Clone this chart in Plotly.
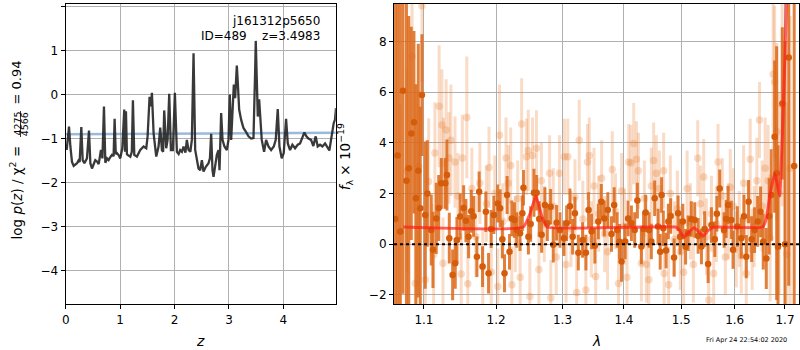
import plotly.graph_objects as go

# ---------------- data: left panel (redshift PDF) ----------------
z_grid = [0.018, 0.037, 0.061, 0.086, 0.116, 0.147, 0.178, 0.208, 0.235, 0.257, 0.287, 0.312, 0.343, 0.370,
          0.391, 0.428, 0.453, 0.483, 0.515, 0.544, 0.575, 0.606, 0.648, 0.675, 0.703, 0.728, 0.760, 0.789,
          0.820, 0.850, 0.880, 0.899, 0.920, 0.942, 0.975, 1.003, 1.040, 1.076, 1.090, 1.107, 1.125, 1.138,
          1.187, 1.215, 1.235, 1.260, 1.309, 1.340, 1.370, 1.431, 1.480, 1.505, 1.541, 1.566, 1.584, 1.615,
          1.664, 1.706, 1.737, 1.768, 1.790, 1.810, 1.847, 1.872, 1.902, 1.933, 1.969, 2.006, 2.043, 2.075,
          2.104, 2.135, 2.165, 2.200, 2.226, 2.257, 2.290, 2.318, 2.349, 2.379, 2.410, 2.440, 2.471, 2.502,
          2.532, 2.575, 2.624, 2.650, 2.673, 2.697, 2.716, 2.746, 2.777, 2.807, 2.826, 2.856, 2.881, 2.917,
          2.960, 2.991, 3.015, 3.040, 3.064, 3.089, 3.113, 3.144, 3.162, 3.187, 3.223, 3.266, 3.309, 3.358,
          3.407, 3.450, 3.480, 3.492, 3.511, 3.529, 3.554, 3.578, 3.602, 3.645, 3.682, 3.725, 3.774, 3.823,
          3.859, 3.896, 3.927, 3.969, 4.006, 4.049, 4.080, 4.122, 4.165, 4.214, 4.263, 4.306, 4.349, 4.385,
          4.422, 4.459, 4.508, 4.550, 4.593, 4.630, 4.673, 4.716, 4.765, 4.813, 4.844, 4.875, 4.899, 4.924,
          4.948, 4.966]
log_pz = [-1.26, -1.03, -0.73, -1.18, -1.53, -1.62, -1.58, -1.56, -1.50, -1.53, -0.74, -1.49, -1.56, -1.50,
          -1.45, -0.82, -1.56, -1.68, -1.55, -1.49, -1.52, -1.58, -1.26, -1.45, -0.27, -1.55, -1.45, -1.49,
          -1.42, -1.37, -1.40, -0.55, -1.35, -1.33, -1.38, -1.45, -1.22, -0.34, -1.30, -0.38, -1.35, -1.37,
          -1.41, -1.30, -0.13, -1.37, -1.41, -1.32, -1.26, -1.18, -1.22, -0.95, -0.05, -0.27, 0.04, -0.88,
          -1.41, -1.18, -0.75, -1.26, -1.30, -0.36, -1.22, -1.03, 0.02, -1.26, -1.26, 0.04, -1.30, -1.35,
          -1.26, -1.30, -1.18, -1.32, -1.03, -1.26, -1.30, -1.03, 0.94, -1.26, -1.49, -1.68, -1.72, -1.49,
          -1.75, -1.64, -1.56, -1.45, -0.89, -1.72, -1.87, -1.56, -1.37, -1.26, -1.72, -0.42, -1.03, -1.18,
          -1.26, -1.03, 0.00, -1.03, -0.27, 0.23, -0.08, 0.66, 0.27, -0.34, -0.57, -0.76, -0.84, -0.95,
          -1.00, -0.99, 0.50, 1.22, 0.34, -0.50, -0.11, -0.50, -1.03, -1.30, -1.03, -1.18, -1.26, -1.18,
          -1.03, -0.33, -1.18, -1.45, -1.33, -0.55, -1.11, -1.26, -1.14, -1.22, -1.14, -1.11, -0.95, -0.86,
          -0.95, -1.00, -1.03, -1.17, -0.95, -1.18, -1.14, -1.18, -1.11, -1.22, -1.27, -1.03, -0.79, -0.65,
          -0.57, -0.31]
prior_z = [0.0, 4.963]
prior_logp = [-0.90, -0.87]

# ---------------- data: right panel (spectrum) ----------------
dark_wave = [1.0625, 1.0655, 1.0690, 1.0725, 1.0770, 1.0800, 1.0833, 1.0868, 1.0894, 1.0925, 1.0951, 1.0973,
             1.1017, 1.1045, 1.1097, 1.1120, 1.1164, 1.1197, 1.1232, 1.1286, 1.1309, 1.1341, 1.1387, 1.1423,
             1.1446, 1.1491, 1.1539, 1.1571, 1.1608, 1.1645, 1.1678, 1.1725, 1.1757, 1.1805, 1.1852, 1.1891,
             1.1928, 1.1967, 1.2024, 1.2058, 1.2090, 1.2122, 1.2160, 1.2195, 1.2229, 1.2268, 1.2302, 1.2351,
             1.2385, 1.2402, 1.2476, 1.2510, 1.2560, 1.2601, 1.2640, 1.2677, 1.2727, 1.2764, 1.2815, 1.2856,
             1.2908, 1.2960, 1.3022, 1.3065, 1.3117, 1.3160, 1.3196, 1.3250, 1.3319, 1.3372, 1.3415, 1.3464,
             1.3517, 1.3573, 1.3622, 1.3671, 1.3730, 1.3791, 1.3836, 1.3886, 1.3925, 1.3958, 1.4020, 1.4070,
             1.4126, 1.4182, 1.4228, 1.4297, 1.4335, 1.4371, 1.4430, 1.4470, 1.4528, 1.4587, 1.4625, 1.4650,
             1.4680, 1.4729, 1.4770, 1.4811, 1.4872, 1.4944, 1.4980, 1.5030, 1.5080, 1.5126, 1.5185, 1.5247,
             1.5310, 1.5371, 1.5430, 1.5495, 1.5557, 1.5620, 1.5660, 1.5713, 1.5796, 1.5835, 1.5872, 1.5935,
             1.5968, 1.6050, 1.6127, 1.6180, 1.6225, 1.6270, 1.6330, 1.6388, 1.6450, 1.6507, 1.6560, 1.6621,
             1.6680, 1.6721, 1.6789, 1.6830, 1.6858, 1.6946, 1.7000, 1.7077, 1.7190]
dark_flux = [1.00, 3.50, 0.50, 6.05, 2.50, 3.00, 4.37, 4.81, 1.81, 2.90, 1.42, 5.88,
             1.15, 2.00, 0.56, -0.22, 1.02, 1.43, 2.40, 2.40, 2.73, 0.24, -1.21, -0.75,
             0.17, 1.09, 1.43, 0.93, 0.30, 1.30, 1.10, -0.49, 2.07, -0.88, 1.28, -1.14,
             0.60, 1.15, 1.61, 1.42, 0.20, -1.14, 1.94, -0.30, 1.02, 0.96, 0.56, 0.43,
             1.22, 2.23, 0.30, 0.80, 2.03, 2.03, 1.00, 0.37, 1.55, 0.83, 1.48, -0.02,
             0.85, 0.56, 0.24, 0.83, 1.50, 0.30, 1.22, -0.33, 0.17, -0.33, 1.35, 0.50,
             -0.06, 0.90, 1.68, 1.02, 1.35, 0.40, 1.55, 0.56, 0.10, -0.68, 0.11, 1.02,
             0.83, 0.56, 1.72, -0.09, 0.60, 1.25, 0.56, 0.11, 1.81, 0.70, -0.30, 1.94,
             0.63, -0.25, 0.90, 1.11, -0.52, 1.22, 0.30, 0.90, -0.10, 0.43, 1.00, 0.96,
             0.33, -0.09, 0.60, -0.78, 0.76, 0.20, 1.20, 2.20, 0.56, 1.00, 1.55, 0.96,
             -0.22, 0.70, 0.24, 1.10, -0.49, 1.68, 0.20, 0.56, 0.90, 1.28, 0.10, -0.56,
             1.10, 1.94, 4.24, 2.80, -0.10, 5.55, 0.00, 7.36, 3.08]
dark_err = [12.0, 10.0, 11.0, 8.0, 9.0, 6.0, 4.2, 3.6, 4.5, 5.0, 4.0, 2.4,
            2.9, 2.1, 1.4, 1.5, 1.4, 1.3, 1.0, 1.0, 1.4, 1.0, 1.0, 1.0,
            0.9, 0.9, 0.9, 0.85, 0.85, 0.85, 0.8, 0.8, 0.8, 0.8, 0.8, 0.8,
            0.75, 0.75, 0.75, 0.75, 0.75, 0.75, 0.75, 0.7, 0.7, 0.7, 0.7, 0.7,
            0.7, 0.7, 0.7, 0.7, 0.95, 0.7, 0.7, 0.7, 0.7, 0.7, 0.7, 0.7,
            0.7, 0.7, 0.7, 0.7, 0.7, 0.7, 0.65, 0.7, 0.7, 0.7, 0.7, 0.7,
            0.7, 0.7, 0.7, 0.7, 0.7, 0.7, 0.7, 0.7, 0.7, 0.8, 0.7, 0.7,
            0.7, 0.7, 0.7, 0.7, 0.7, 0.7, 0.7, 0.7, 0.7, 0.7, 0.7, 0.7,
            0.7, 0.7, 0.7, 0.7, 0.75, 0.7, 0.7, 0.7, 0.7, 0.7, 0.7, 0.7,
            0.7, 0.7, 0.7, 0.75, 0.7, 0.7, 0.7, 0.75, 0.7, 0.75, 0.75, 0.75,
            0.75, 0.8, 0.8, 0.85, 0.85, 0.85, 0.9, 0.9, 1.0, 1.0, 1.1, 1.2,
            1.5, 1.8, 3.0, 5.0, 4.0, 3.0, 8.0, 9.0, 7.0]

light_wave = [1.0688, 1.0778, 1.0843, 1.0886, 1.0930, 1.0973, 1.1017, 1.1062, 1.1129, 1.1146, 1.1203, 1.1240,
              1.1255, 1.1263, 1.1298, 1.1337, 1.1363, 1.1419, 1.1460, 1.1505, 1.1521, 1.1583, 1.1597, 1.1654,
              1.1710, 1.1767, 1.1809, 1.1859, 1.1898, 1.1930, 1.1981, 1.2024, 1.2049, 1.2097, 1.2144, 1.2179,
              1.2213, 1.2229, 1.2280, 1.2316, 1.2353, 1.2375, 1.2449, 1.2474, 1.2498, 1.2538, 1.2598, 1.2635,
              1.2673, 1.2718, 1.2799, 1.2818, 1.2856, 1.2902, 1.2952, 1.3030, 1.3056, 1.3083, 1.3134, 1.3197,
              1.3224, 1.3265, 1.3323, 1.3371, 1.3398, 1.3427, 1.3459, 1.3504, 1.3531, 1.3580, 1.3628, 1.3677,
              1.3726, 1.3804, 1.3858, 1.3908, 1.3959, 1.4009, 1.4051, 1.4081, 1.4118, 1.4166, 1.4212, 1.4246,
              1.4297, 1.4349, 1.4383, 1.4426, 1.4470, 1.4510, 1.4557, 1.4610, 1.4686, 1.4695, 1.4775, 1.4805,
              1.4877, 1.4931, 1.4985, 1.5045, 1.5107, 1.5167, 1.5222, 1.5302, 1.5352, 1.5413, 1.5463, 1.5506,
              1.5557, 1.5600, 1.5650, 1.5682, 1.5763, 1.5820, 1.5877, 1.5915, 1.5973, 1.6030, 1.6088, 1.6127,
              1.6172, 1.6224, 1.6263, 1.6302, 1.6341, 1.6380, 1.6433, 1.6485, 1.6538, 1.6598, 1.6658, 1.6698,
              1.6759, 1.6789, 1.6834, 1.6880, 1.6941, 1.7038, 1.7106]
light_flux = [0.50, 2.90, 7.41, -1.54, 3.06, 9.40, -1.40, 2.47, -0.41, 3.60, 5.44, 4.70,
              -0.75, 3.19, 4.50, 3.40, 4.10, 3.24, 1.90, -1.17, 3.40, 5.00, -1.56, 2.20,
              0.30, 2.40, -0.90, 1.60, 3.03, -1.10, 2.00, -1.67, 4.30, 0.90, 3.40, 2.40,
              3.10, -1.60, 0.40, 1.80, -1.30, 4.74, 3.45, 3.70, -2.06, 3.50, 3.78, -1.00,
              2.50, 0.80, 2.80, -2.12, 1.50, -0.50, 2.80, 3.45, -0.80, 3.45, 0.60, 1.85,
              -1.90, 4.10, 1.00, -1.80, 3.24, 3.50, 0.20, 2.30, -1.27, 1.20, 2.60, 0.40,
              -0.30, 2.95, 1.30, -1.55, 2.10, 0.70, -1.30, 3.24, 3.20, 3.97, 3.35, 2.90,
              -0.75, 1.80, -0.80, -1.40, 2.30, 3.30, 2.80, 2.20, 2.90, -1.15, -1.60, 2.00,
              0.20, 1.40, -0.30, -1.10, 2.20, 0.90, -0.80, 3.39, 1.60, 2.65, 0.30, -2.20,
              1.20, -1.15, 0.80, 3.24, 1.90, -0.50, 0.90, 2.25, 1.50, -0.20, 0.60, -0.45,
              2.40, -1.15, 1.00, 3.35, -0.20, 0.70, 2.50, 4.90, 1.50, 3.00, 2.50, 0.24,
              6.70, 6.40, 4.43, 2.00, 5.50, -0.40, 3.00]
light_err = [5.0, 4.0, 2.5, 3.0, 3.0, 3.0, 2.5, 2.5, 2.0, 2.0, 2.4, 2.2,
             1.8, 1.8, 2.0, 1.8, 2.2, 1.8, 1.7, 1.6, 1.7, 2.4, 1.6, 1.6,
             1.6, 1.6, 1.5, 1.5, 1.6, 1.5, 1.5, 1.5, 2.0, 1.5, 1.6, 1.5,
             1.5, 1.5, 1.5, 1.5, 1.5, 1.8, 1.5, 1.6, 1.5, 1.5, 1.5, 1.5,
             1.5, 1.5, 1.5, 1.5, 1.5, 1.5, 1.5, 1.5, 1.5, 1.5, 1.5, 1.5,
             1.5, 1.6, 1.5, 1.5, 1.5, 1.5, 1.5, 1.5, 1.5, 1.5, 1.5, 1.5,
             1.5, 1.5, 1.5, 1.5, 1.5, 1.5, 1.5, 1.5, 1.5, 1.6, 1.5, 1.5,
             1.5, 1.5, 1.5, 1.5, 1.5, 1.5, 1.5, 1.5, 1.5, 1.5, 1.5, 1.5,
             1.5, 1.5, 1.5, 1.5, 1.5, 1.5, 1.5, 1.5, 1.5, 1.5, 1.5, 1.5,
             1.5, 1.5, 1.5, 1.5, 1.5, 1.5, 1.5, 1.5, 1.5, 1.5, 1.5, 1.5,
             1.5, 1.5, 1.5, 1.6, 1.6, 1.6, 1.7, 1.5, 1.8, 2.0, 2.2, 2.5,
             3.0, 3.0, 3.5, 4.0, 4.0, 6.0, 6.0]

model_wave = [1.073, 1.240, 1.250, 1.259, 1.268, 1.276, 1.490, 1.497, 1.505, 1.515, 1.523, 1.532, 1.540,
              1.550, 1.560, 1.655, 1.662, 1.670, 1.679, 1.684, 1.689, 1.694, 1.700, 1.705]
model_flux = [0.68, 0.68, 1.20, 1.90, 1.10, 0.68, 0.68, 0.55, 0.28, 0.50, 0.65, 0.50, 0.32,
              0.55, 0.67, 0.68, 1.00, 2.00, 2.80, 2.40, 1.90, 4.00, 7.50, 11.0]

z_ticks = [0, 1, 2, 3, 4]
lp_ticks = [-4, -3, -2, -1, 0, 1, 2]
wave_ticks = [1.1, 1.2, 1.3, 1.4, 1.5, 1.6, 1.7]
flux_ticks = [-2, 0, 2, 4, 6, 8]

W, H = 800, 350
def px(x):
    return x / W
def py(y):
    return 1 - y / H

FONT = "DejaVu Sans"
GRID = "#b0b0b0"
DARK_BAR = "rgba(220,105,25,0.85)"
DARK_PT = "rgba(212,92,10,1)"
LIGHT = "rgba(232,125,50,0.28)"

def lbl(v):
    s = ("%g" % v)
    return s.replace("-", "\u2212")

fig = go.Figure()
fig.add_trace(go.Scatter(x=prior_z, y=prior_logp, mode="lines",
                         line=dict(color="rgba(70,130,190,0.55)", width=2.5), xaxis="x", yaxis="y"))
fig.add_trace(go.Scatter(x=z_grid, y=log_pz, mode="lines",
                         line=dict(color="rgba(35,35,35,0.9)", width=2.3), xaxis="x", yaxis="y"))
fig.add_trace(go.Scatter(x=light_wave, y=light_flux, mode="markers",
                         marker=dict(size=7.5, color=LIGHT, line=dict(width=0)),
                         error_y=dict(type="data", array=light_err, color=LIGHT, thickness=3, width=0),
                         xaxis="x2", yaxis="y2"))
fig.add_trace(go.Scatter(x=dark_wave, y=dark_flux, mode="markers",
                         marker=dict(size=6.5, color=DARK_PT, line=dict(width=0)),
                         error_y=dict(type="data", array=dark_err, color=DARK_BAR, thickness=3, width=0),
                         xaxis="x2", yaxis="y2"))
fig.add_trace(go.Scatter(x=model_wave, y=model_flux, mode="lines",
                         line=dict(color="rgba(255,30,25,0.7)", width=3, shape="spline", smoothing=0.4),
                         xaxis="x2", yaxis="y2"))

axis_common = dict(showgrid=True, gridcolor=GRID, gridwidth=1, showline=True, linecolor="black",
                   linewidth=1.2, mirror=True, ticks="outside", ticklen=4, tickcolor="black",
                   zeroline=False, tickfont=dict(family=FONT, size=12, color="black"))
dom_y = [py(304), py(3.5)]
fig.update_layout(
    width=W, height=H, margin=dict(l=0, r=0, t=0, b=0), showlegend=False,
    paper_bgcolor="white", plot_bgcolor="white",
    xaxis=dict(domain=[px(62), px(333.5)], range=[0, 4.963], tickvals=z_ticks,
               ticktext=[lbl(v) for v in z_ticks], anchor="y", **axis_common),
    yaxis=dict(domain=dom_y, range=[-4.76, 2.07], tickvals=lp_ticks,
               ticktext=[lbl(v) for v in lp_ticks], anchor="x", **axis_common),
    xaxis2=dict(domain=[px(392), px(799)], type="log", range=[0.02572, 0.23779], tickvals=wave_ticks,
                ticktext=[lbl(v) for v in wave_ticks], anchor="y2", **axis_common),
    yaxis2=dict(domain=dom_y, range=[-2.355, 9.49], tickvals=flux_ticks,
                ticktext=[lbl(v) for v in flux_ticks], anchor="x2", **axis_common),
)

fig.add_shape(type="line", xref="x2 domain", yref="y2", x0=0, x1=1, y0=0, y1=0,
              line=dict(color="black", width=2, dash="dot"))

ann = []
tf = dict(family=FONT, size=12, color="black")
ann.append(dict(text="j161312p5650", x=px(319.5), y=py(21), xanchor="right", yanchor="middle", font=tf))
ann.append(dict(text="ID=489\u00a0\u00a0\u00a0\u00a0z=3.4983", x=px(319.5), y=py(35.5),
                xanchor="right", yanchor="middle", font=tf))
# axis titles
ann.append(dict(text="<i>z</i>", x=px(197), y=py(341), xanchor="center", yanchor="middle",
                font=dict(family=FONT, size=14, color="black")))
ann.append(dict(text="<i>λ</i>", x=px(595), y=py(341), xanchor="center", yanchor="middle",
                font=dict(family=FONT, size=14, color="black")))
# left y label (with stacked fraction)
lf = dict(family=FONT, size=13.5, color="black")
ann.append(dict(text="log <i>p</i>(<i>z</i>) / χ<sup>2</sup> =", x=px(12.5), y=py(192), textangle=-90,
                xanchor="center", yanchor="middle", font=lf))
ann.append(dict(text="4275", x=px(12.6), y=py(124), textangle=-90, xanchor="center", yanchor="middle",
                font=dict(family=FONT, size=9.5, color="black")))
ann.append(dict(text="4566", x=px(20.4), y=py(124), textangle=-90, xanchor="center", yanchor="middle",
                font=dict(family=FONT, size=9.5, color="black")))
ann.append(dict(text="= 0.94", x=px(12.5), y=py(82), textangle=-90, xanchor="center", yanchor="middle",
                font=dict(family=FONT, size=13, color="black")))
# right y label
ann.append(dict(text="<i>f</i><sub>λ</sub> × 10<sup>\u221219</sup>", x=px(343), y=py(157), textangle=-90,
                xanchor="center", yanchor="middle", font=lf))
# timestamp
ann.append(dict(text="Fri Apr 24 22:54:02 2020", x=px(788.5), y=py(340), xanchor="right", yanchor="middle",
                font=dict(family=FONT, size=6.5, color="black")))
for a in ann:
    a.update(xref="paper", yref="paper", showarrow=False)
fig.update_layout(annotations=ann)
fig.add_shape(type="line", xref="paper", yref="paper", x0=px(16.6), x1=px(16.6), y0=py(111), y1=py(137),
              line=dict(color="black", width=0.8))

fig.write_html("out.html")
